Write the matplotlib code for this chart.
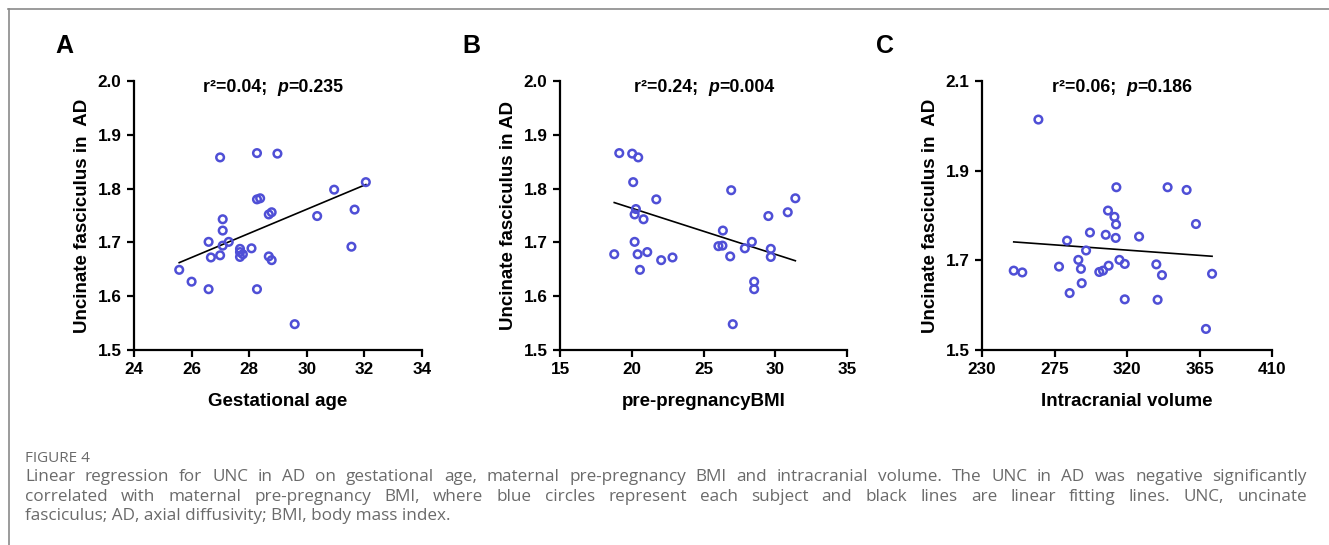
import matplotlib.pyplot as plt
import numpy as np

plt.rcParams['font.family'] = ['Liberation Sans', 'DejaVu Sans']

# Panel A: gestational age
ga_x = [25.57, 26.0, 26.59, 26.59, 26.67, 26.99, 26.99, 27.08, 27.08, 27.08, 27.29,
        27.68, 27.68, 27.68, 27.78, 28.08, 28.27, 28.27, 28.38, 28.27, 28.68, 28.78,
        28.68, 28.78, 28.98, 29.58, 30.36, 30.95, 31.55, 31.66, 32.05]
ga_y = [1.649, 1.627, 1.613, 1.701, 1.672, 1.858, 1.676, 1.743, 1.722, 1.694, 1.701,
        1.688, 1.682, 1.673, 1.678, 1.689, 1.866, 1.780, 1.782, 1.613, 1.752, 1.756,
        1.674, 1.667, 1.865, 1.548, 1.749, 1.798, 1.692, 1.761, 1.812]

# Panel B: pre-pregnancy BMI
bmi_x = [18.78, 19.13, 20.03, 20.45, 20.10, 21.71, 20.29, 20.20, 20.82, 20.20, 20.41,
         21.08, 20.57, 22.05, 22.84, 26.93, 26.35, 26.04, 26.32, 26.86, 27.04, 27.88,
         28.37, 28.53, 28.53, 29.52, 29.69, 29.69, 30.87, 31.40]
bmi_y = [1.678, 1.866, 1.865, 1.858, 1.812, 1.780, 1.762, 1.752, 1.743, 1.701, 1.678,
         1.682, 1.649, 1.667, 1.672, 1.797, 1.722, 1.693, 1.694, 1.674, 1.548, 1.689,
         1.701, 1.627, 1.613, 1.749, 1.688, 1.673, 1.756, 1.782]

# Panel C: intracranial volume
icv_x = [265.0, 249.7, 255.0, 277.8, 282.8, 284.4, 289.8, 291.4, 291.9, 294.6, 297.0,
         302.8, 305.1, 306.8, 308.6, 308.2, 312.2, 313.2, 313.0, 313.4, 315.3, 318.6,
         318.6, 327.5, 338.2, 339.0, 341.7, 345.2, 357.0, 362.8, 369.0, 372.8]
icv_y = [2.014, 1.677, 1.673, 1.686, 1.744, 1.627, 1.701, 1.681, 1.649, 1.722, 1.762,
         1.674, 1.677, 1.757, 1.688, 1.811, 1.797, 1.780, 1.750, 1.863, 1.701, 1.692,
         1.613, 1.753, 1.691, 1.612, 1.667, 1.863, 1.857, 1.781, 1.547, 1.670]

# fitted lines (slope, intercept) as drawn in the figure
fits = [(0.0224, 1.0896), (-0.00857, 1.935), (-0.00026, 1.806)]

panels = [
    (ga_x, ga_y, "A", "Gestational age", "Uncinate fasciculus in  AD",
     [24, 26, 28, 30, 32, 34], [1.5, 1.6, 1.7, 1.8, 1.9, 2.0], "0.04", "0.235"),
    (bmi_x, bmi_y, "B", "pre-pregnancyBMI", "Uncinate fasciculus in AD",
     [15, 20, 25, 30, 35], [1.5, 1.6, 1.7, 1.8, 1.9, 2.0], "0.24", "0.004"),
    (icv_x, icv_y, "C", "Intracranial volume", "Uncinate fasciculus in  AD",
     [230, 275, 320, 365, 410], [1.5, 1.7, 1.9, 2.1], "0.06", "0.186"),
]

W, H = 1329, 545
fig = plt.figure(figsize=(W / 100, H / 100), dpi=100)

# pixel boxes: left, right, top, bottom
boxes = [(134, 422, 81, 350), (560, 847, 81, 350), (982, 1272, 81, 350)]
letter_x = [55, 462, 876]
stat_x = [0.24, 0.258, 0.242]

for i, (x, y, letter, xlabel, ylabel, xt, yt, r2, p) in enumerate(panels):
    l, r, t, b = boxes[i]
    ax = fig.add_axes([l / W, (H - b) / H, (r - l) / W, (b - t) / H])
    ax.scatter(x, y, s=30, facecolors='none', edgecolors='#4f4fd6', linewidths=1.8, zorder=3)
    slope, icpt = fits[i]
    xs = np.array([min(x), max(x)])
    ax.plot(xs, slope * xs + icpt, color='black', lw=1.2, zorder=2)
    ax.set_xlim(xt[0], xt[-1])
    ax.set_ylim(yt[0], yt[-1])
    ax.set_xticks(xt)
    ax.set_yticks(yt)
    ax.set_yticklabels([f"{v:.1f}" for v in yt])
    for s in ['top', 'right']:
        ax.spines[s].set_visible(False)
    for s in ['left', 'bottom']:
        ax.spines[s].set_linewidth(1.6)
    ax.tick_params(direction='out', length=5, width=1.6, labelsize=12.3, pad=4)
    for lab in ax.get_xticklabels() + ax.get_yticklabels():
        lab.set_fontweight('bold')
    ax.set_xlabel(xlabel, fontsize=13.5, fontweight='bold', labelpad=11)
    ax.set_ylabel(ylabel, fontsize=13.5, fontweight='bold', labelpad=5)

    t1 = ax.text(stat_x[i], 0.975, f"r\u00b2={r2};  ", transform=ax.transAxes,
                 fontsize=12.8, fontweight='bold', va='center', ha='left')
    t2 = ax.annotate("p", xy=(1, 0), xycoords=t1, va='bottom', ha='left',
                     fontsize=12.8, fontweight='bold', style='italic')
    ax.annotate(f"={p}", xy=(1, 0), xycoords=t2, va='bottom', ha='left',
                fontsize=12.8, fontweight='bold')

    fig.text(letter_x[i] / W, 1 - 46 / H, letter, fontsize=18, fontweight='bold',
             va='center', ha='left')

# frame lines (top and left)
fig.add_artist(plt.Line2D([8 / W, 1], [1 - 8.5 / H, 1 - 8.5 / H], color='#8a8a8a', lw=1.2))
fig.add_artist(plt.Line2D([8.5 / W, 8.5 / W], [0, 1 - 8.5 / H], color='#8a8a8a', lw=1.2))

# caption
cap_font = ['Open Sans', 'DejaVu Sans']
cap_col = '#6a6a6a'
fig.text(25 / W, 1 - 458 / H, "FIGURE 4", fontsize=11, color=cap_col, family=cap_font,
         va='center', ha='left')
lines = [
    "Linear regression for UNC in AD on gestational age, maternal pre-pregnancy BMI and intracranial volume. The UNC in AD was negative significantly",
    "correlated with maternal pre-pregnancy BMI, where blue circles represent each subject and black lines are linear fitting lines. UNC, uncinate",
    "fasciculus; AD, axial diffusivity; BMI, body mass index.",
]
line_y = [477, 497, 516]
left_px, right_px = 25, 1307
cap_size = 12.3
renderer = fig.canvas.get_renderer()
for k, line in enumerate(lines):
    yy = 1 - line_y[k] / H
    words = line.split(" ")
    if k == len(lines) - 1:
        fig.text(left_px / W, yy, line, fontsize=cap_size, color=cap_col, family=cap_font,
                 va='center', ha='left')
        continue
    # justify the line across the width
    arts = [fig.text(0, yy, w, fontsize=cap_size, color=cap_col, family=cap_font,
                     va='center', ha='left') for w in words]
    widths = [a.get_window_extent(renderer).width for a in arts]
    gap = (right_px - left_px - sum(widths)) / (len(words) - 1)
    pos = left_px
    for a, wdt in zip(arts, widths):
        a.set_x(pos / W)
        pos += wdt + gap

fig.savefig("out.png", dpi=100)
